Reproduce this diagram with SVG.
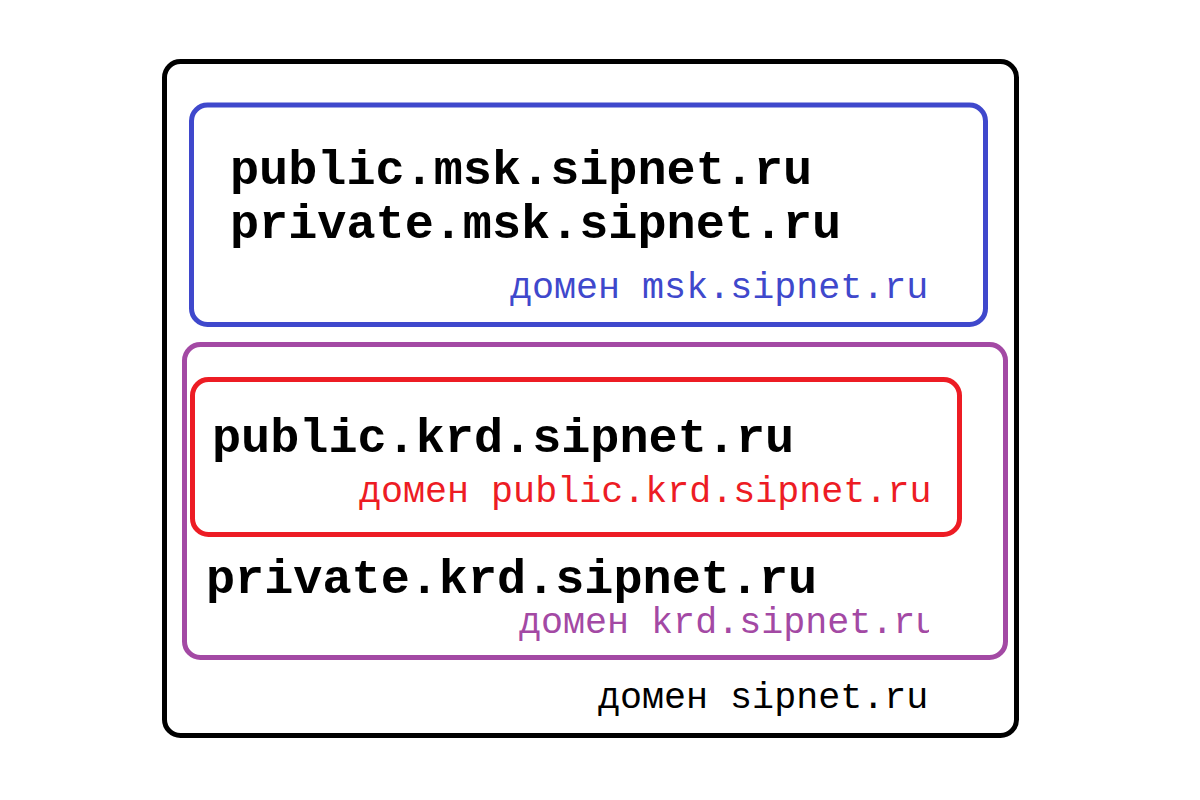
<svg xmlns="http://www.w3.org/2000/svg" width="1200" height="800" viewBox="0 0 1200 800">
<style>
.box{fill:none;stroke-width:5}
.big{font-family:"Courier New","Nimbus Mono PS","FreeMono","Liberation Mono",monospace;font-weight:bold;font-size:48.5px;fill:#000}
.lbl{font-family:"Courier New","Nimbus Mono PS","FreeMono","Liberation Mono",monospace;font-size:36.7px}
</style>
<defs>
<clipPath id="clipKrd"><rect x="0" y="0" width="929" height="800"/></clipPath>
</defs>
<rect width="1200" height="800" fill="#fff"/>
<g id="sipnet">
<rect class="box" x="164.5" y="61.5" width="852" height="674" rx="16" stroke="#000"/>
<text class="lbl" x="598" y="708" fill="#000">домен sipnet.ru</text>
</g>
<g id="msk">
<rect class="box" x="191.5" y="105" width="794" height="219.5" rx="16" stroke="#3f48cc"/>
<text class="big" x="230" y="184">public.msk.sipnet.ru</text>
<text class="big" x="230" y="238">private.msk.sipnet.ru</text>
<text class="lbl" x="510" y="298" fill="#3f48cc">домен msk.sipnet.ru</text>
</g>
<g id="krd">
<rect class="box" x="184.5" y="344.5" width="821" height="313" rx="16" stroke="#a349a4"/>
<text class="big" x="206" y="593">private.krd.sipnet.ru</text>
<text class="lbl" x="519" y="633" fill="#a349a4" clip-path="url(#clipKrd)">домен krd.sipnet.ru</text>
</g>
<g id="public-krd">
<rect class="box" x="192.5" y="379.5" width="767" height="155" rx="16" stroke="#ed1c24"/>
<text class="big" x="212" y="452">public.krd.sipnet.ru</text>
<text class="lbl" x="359" y="502" fill="#ed1c24">домен public.krd.sipnet.ru</text>
</g>
<g id="connectors"/>
</svg>
